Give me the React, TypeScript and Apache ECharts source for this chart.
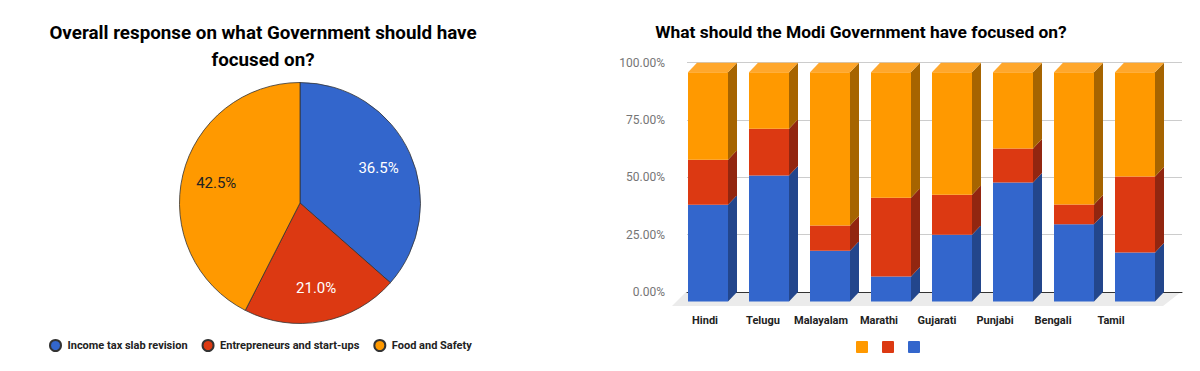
import React, { useEffect, useRef } from "react";
import * as echarts from "echarts";

// ---------- Data ----------
const pieNames = ["Income tax slab revision", "Entrepreneurs and start-ups", "Food and Safety"];
const pieValues = [36.5, 21.0, 42.5];
const pieColors = ["#3366cc", "#dc3912", "#ff9900"];
const pieLabelColors = ["#ffffff", "#ffffff", "#222222"];

const languages = ["Hindi", "Telugu", "Malayalam", "Marathi", "Gujarati", "Punjabi", "Bengali", "Tamil"];
const incomeTax = [42.2, 54.9, 22.1, 10.9, 29.1, 51.9, 33.7, 21.4];
const entrepreneurs = [19.6, 20.4, 11.0, 34.4, 17.5, 14.8, 8.6, 33.1];
const foodSafety = [38.2, 24.7, 66.9, 54.7, 53.4, 33.3, 57.7, 45.5];

const yTicks = [0, 25, 50, 75, 100];

const barFront = ["#3366cc", "#dc3912", "#ff9900"];
const barSide = ["#23468c", "#922610", "#a66400"];
const barTop = ["#4a7ad6", "#e5502c", "#ffa72c"];

const FONT = "Roboto";

export default function App() {
  const ref = useRef<HTMLDivElement>(null);

  useEffect(() => {
    if (!ref.current) return;
    const chart = echarts.init(ref.current, null, { renderer: "svg" });

    const stacks = [incomeTax, entrepreneurs, foodSafety];
    const W = 40;
    const DX = 9;
    const DY = 9.5;

    const makeSeries = (level: number) => {
      const data = languages.map((_, i) => {
        let base = 0;
        for (let k = 0; k < level; k++) base += stacks[k][i];
        return [i, base, base + stacks[level][i]];
      });
      return {
        type: "custom",
        xAxisIndex: 1,
        yAxisIndex: 1,
        z: 5,
        silent: true,
        data,
        encode: { x: 0, y: [1, 2] },
        renderItem: (params: any, api: any) => {
          const ci = api.value(0);
          const b = api.value(1);
          const t = api.value(2);
          const pb = api.coord([ci, b]);
          const pt = api.coord([ci, t]);
          const cx = pb[0];
          const yb = pb[1];
          const yt = pt[1];
          const children: any[] = [
            {
              type: "rect",
              shape: { x: cx - W / 2 - DX, y: yt + DY, width: W, height: yb - yt },
              style: { fill: barFront[level] },
            },
            {
              type: "polygon",
              shape: {
                points: [
                  [cx + W / 2 - DX, yt + DY],
                  [cx + W / 2, yt],
                  [cx + W / 2, yb],
                  [cx + W / 2 - DX, yb + DY],
                ],
              },
              style: { fill: barSide[level] },
            },
          ];
          if (level === stacks.length - 1) {
            children.push({
              type: "polygon",
              shape: {
                points: [
                  [cx - W / 2 - DX, yt + DY],
                  [cx - W / 2, yt],
                  [cx + W / 2, yt],
                  [cx + W / 2 - DX, yt + DY],
                ],
              },
              style: { fill: barTop[level] },
            });
          }
          return { type: "group", children };
        },
      };
    };

    const R = 120.5;

    const option: any = {
      animation: false,
      textStyle: { fontFamily: FONT },
      title: [
        {
          text: "Overall response on what Government should have\nfocused on?",
          left: 258,
          top: 15,
          textAlign: "center",
          textStyle: { fontFamily: FONT, fontSize: 18.8, fontWeight: "bold", color: "#000", lineHeight: 26.5 },
        },
        {
          text: "What should the Modi Government have focused on?",
          left: 856,
          top: 18,
          textAlign: "center",
          textStyle: { fontFamily: FONT, fontSize: 17.4, fontWeight: "bold", color: "#000" },
        },
      ],
      legend: {
        data: pieNames,
        left: 44,
        top: 334,
        icon: "circle",
        itemWidth: 14,
        itemHeight: 11,
        itemGap: 14,
        textStyle: { fontFamily: FONT, fontSize: 11, fontWeight: "bold", color: "#222" },
      },
      color: pieColors,
      grid: [
        { left: 687, right: 18, top: 62.7, bottom: 79 },
        { left: 686.5, width: 488, top: 62.7, bottom: 79 },
        { left: 676, width: 464, top: 100, bottom: 63 },
      ],
      xAxis: [
        {
          gridIndex: 0,
          type: "value",
          min: 0,
          max: 1,
          z: 3,
          axisLabel: { show: false },
          axisTick: { show: false },
          splitLine: { show: false },
          axisLine: { show: true, lineStyle: { color: "#333", width: 1 } },
        },
        {
          gridIndex: 1,
          type: "category",
          data: languages,
          show: false,
        },
        {
          gridIndex: 2,
          type: "category",
          data: languages,
          axisLine: { show: false },
          axisTick: { show: false },
          axisLabel: {
            margin: 7,
            interval: 0,
            fontFamily: FONT,
            fontSize: 11,
            fontWeight: "bold",
            color: "#222",
          },
        },
      ],
      yAxis: [
        {
          gridIndex: 0,
          type: "value",
          min: 0,
          max: 100,
          interval: 25,
          axisLine: { show: false },
          axisTick: { show: false },
          axisLabel: {
            margin: 22,
            fontFamily: FONT,
            fontSize: 12,
            color: "#757575",
            formatter: (v: number) => (yTicks.includes(v) ? v.toFixed(2) + "%" : ""),
          },
          splitLine: { show: true, lineStyle: { color: "#cccccc", width: 1 } },
        },
        { gridIndex: 1, type: "value", min: 0, max: 100, show: false },
        { gridIndex: 2, type: "value", show: false },
      ],
      graphic: [
        {
          type: "polygon",
          z: -10,
          silent: true,
          shape: { points: [[686, 292], [1181, 292], [1163, 306], [672, 306]] },
          style: { fill: "#ebebeb" },
        },
        { type: "rect", z: 10, shape: { x: 856, y: 341, width: 12, height: 12, r: 1 }, style: { fill: barFront[2] } },
        { type: "rect", z: 10, shape: { x: 882, y: 341, width: 12, height: 12, r: 1 }, style: { fill: barFront[1] } },
        { type: "rect", z: 10, shape: { x: 908, y: 341, width: 12, height: 12, r: 1 }, style: { fill: barFront[0] } },
      ],
      series: [
        {
          type: "pie",
          center: [300, 203],
          radius: [0, R],
          startAngle: 90,
          clockwise: true,
          silent: true,
          label: { show: false },
          labelLine: { show: false },
          itemStyle: { borderColor: "#333", borderWidth: 0.8 },
          data: pieNames.map((n, i) => ({ name: n, value: pieValues[i], itemStyle: { color: pieColors[i] } })),
        },
        {
          type: "pie",
          center: [300, 203],
          radius: [R * 0.38, R],
          startAngle: 90,
          clockwise: true,
          silent: true,
          z: 3,
          labelLine: { show: false },
          itemStyle: { color: "rgba(0,0,0,0)", borderWidth: 0 },
          label: {
            show: true,
            position: "inside",
            fontFamily: FONT,
            fontSize: 15,
            formatter: (p: any) => Number(p.value).toFixed(1) + "%",
          },
          data: pieNames.map((n, i) => ({
            name: n,
            value: pieValues[i],
            itemStyle: { color: "rgba(0,0,0,0)" },
            label: { color: pieLabelColors[i] },
          })),
        },
        makeSeries(0),
        makeSeries(1),
        makeSeries(2),
      ],
    };

    chart.setOption(option);
    return () => chart.dispose();
  }, []);

  return (
    <div
      ref={ref}
      style={{ position: "fixed", left: 0, top: 0, width: 1200, height: 371, background: "#fff" }}
    />
  );
}
